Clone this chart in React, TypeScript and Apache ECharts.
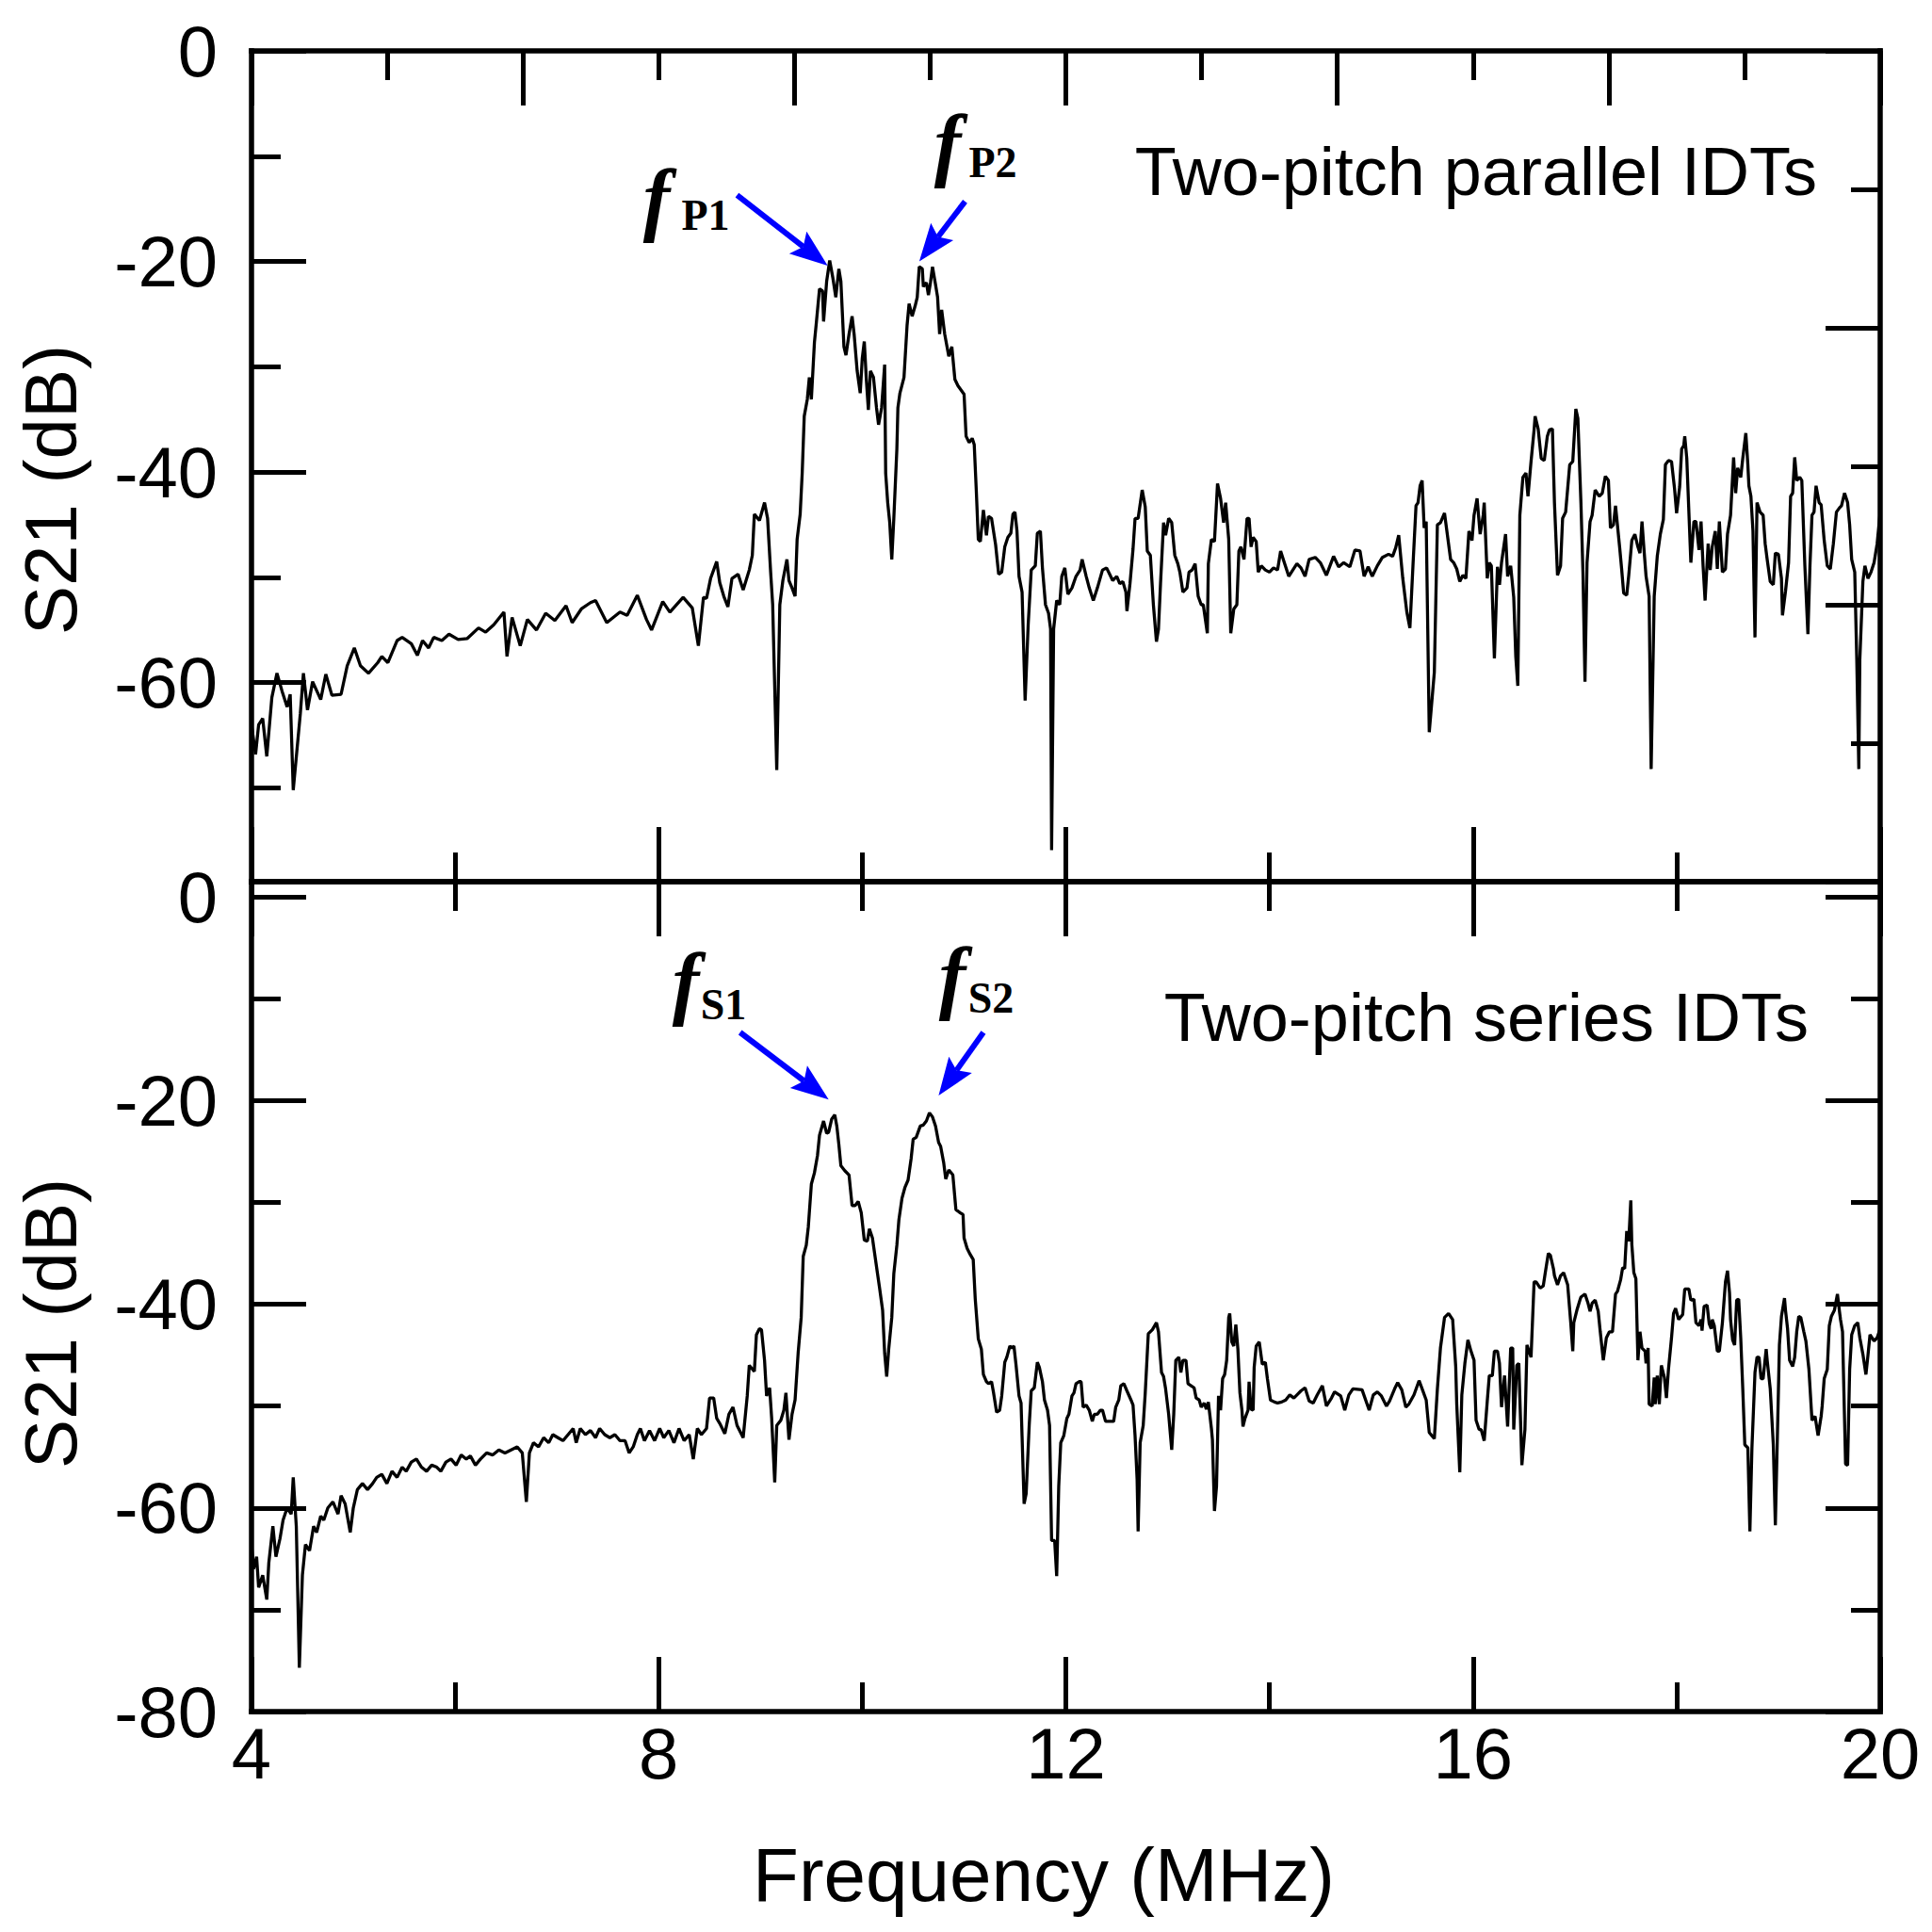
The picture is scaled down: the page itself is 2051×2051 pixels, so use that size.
import React, { useEffect, useRef } from "react";
import * as echarts from "echarts";

// ---------- data ----------
const freqMajorTicks = [4, 8, 12, 16, 20];
const dbMajorTop = [0, -20, -40, -60];
const dbMinorTop = [-10, -30, -50, -70];
const dbMajorBottom = [0, -20, -40, -60, -80];
const dbMinorBottom = [-10, -30, -50, -70];

const panelTitles = ["Two-pitch parallel IDTs", "Two-pitch series IDTs"];
const xTitle = "Frequency (MHz)";
const yTitle = "S21 (dB)";

// S21 of two-pitch parallel IDTs: [frequency MHz, dB]
const parallelS21: [number, number][] = [
  [4.00,-64.0],[4.04,-66.8],[4.07,-64.0],[4.11,-63.4],[4.15,-67.0],[4.20,-61.4],[4.25,-59.1],[4.30,-60.8],[4.35,-62.3],[4.38,-61.1],
  [4.41,-70.2],[4.48,-62.9],[4.51,-59.1],[4.55,-62.6],[4.60,-59.9],[4.68,-61.6],[4.73,-59.2],[4.79,-61.2],[4.88,-61.1],[4.94,-58.4],
  [5.01,-56.7],[5.07,-58.4],[5.15,-59.1],[5.24,-58.1],[5.28,-57.5],[5.34,-58.1],[5.43,-56.0],[5.48,-55.7],[5.57,-56.3],[5.63,-57.4],
  [5.68,-56.0],[5.74,-56.7],[5.79,-55.7],[5.87,-56.0],[5.94,-55.4],[6.03,-55.9],[6.12,-55.8],[6.23,-54.8],[6.30,-55.2],[6.38,-54.5],
  [6.48,-53.3],[6.51,-57.5],[6.56,-53.8],[6.64,-56.5],[6.71,-54.0],[6.80,-55.0],[6.89,-53.4],[6.98,-54.1],[7.09,-52.7],[7.15,-54.3],
  [7.24,-53.0],[7.33,-52.4],[7.38,-52.2],[7.49,-54.3],[7.62,-53.3],[7.69,-53.6],[7.79,-51.7],[7.88,-54.0],[7.93,-55.0],[8.04,-52.3],
  [8.11,-53.3],[8.24,-51.9],[8.33,-52.9],[8.39,-56.5],[8.44,-51.9],
  [8.47,-52.0],[8.51,-50.1],[8.57,-48.5],[8.60,-50.5],[8.64,-51.8],[8.68,-52.8],[8.72,-50.1],[8.78,-49.7],[8.83,-51.2],[8.89,-49.3],
  [8.92,-47.9],[8.94,-44.0],[8.99,-44.6],[9.04,-42.9],[9.07,-44.4],[9.10,-49.5],[9.12,-52.6],[9.16,-68.3],[9.19,-52.6],[9.22,-50.3],
  [9.26,-48.3],[9.28,-50.3],[9.31,-51.0],[9.34,-51.8],[9.36,-46.4],[9.39,-44.0],[9.41,-40.1],[9.43,-34.7],[9.46,-33.1],[9.48,-31.0],
  [9.50,-33.1],[9.53,-27.7],[9.55,-25.7],[9.58,-22.6],[9.61,-22.8],[9.62,-25.7],[9.65,-21.9],[9.68,-19.9],[9.71,-21.5],[9.74,-23.4],
  [9.77,-20.7],[9.79,-21.9],[9.82,-28.1],[9.84,-28.9],[9.87,-26.9],[9.90,-25.2],[9.92,-26.9],[9.95,-30.4],[9.98,-32.5],[10.00,-29.2],
  [10.02,-27.6],[10.04,-31.2],[10.06,-34.1],[10.08,-30.4],[10.11,-31.0],[10.14,-33.9],[10.16,-35.5],[10.19,-33.9],[10.22,-29.8],[10.23,-40.1],
  [10.25,-42.9],[10.27,-44.8],[10.29,-48.3],[10.31,-44.4],[10.34,-37.8],[10.35,-33.9],[10.37,-32.5],[10.41,-31.0],[10.44,-26.1],[10.46,-24.0],
  [10.49,-25.2],[10.52,-24.2],[10.54,-23.4],[10.56,-20.5],[10.59,-20.7],[10.60,-22.4],[10.63,-22.0],[10.65,-23.2],[10.67,-22.0],[10.69,-20.5],
  [10.72,-22.2],[10.74,-23.4],[10.76,-26.9],[10.78,-24.6],[10.81,-26.9],[10.85,-29.0],[10.88,-28.1],[10.91,-31.2],[10.94,-31.8],[10.97,-32.2],
  [11.00,-32.6],[11.02,-36.6],[11.05,-37.2],[11.08,-36.8],[11.10,-37.4],[11.12,-41.7],[11.14,-46.4],[11.16,-46.6],[11.19,-43.6],[11.22,-46.0],
  [11.24,-44.2],[11.27,-44.4],[11.31,-46.9],[11.34,-49.7],[11.37,-49.5],[11.40,-47.1],[11.43,-46.2],[11.46,-45.8],[11.48,-44.0],[11.50,-43.8],
  [11.52,-45.6],[11.54,-49.9],[11.57,-51.4],[11.60,-61.7],[11.63,-54.5],[11.66,-49.3],[11.70,-48.9],[11.72,-45.8],[11.75,-45.6],[11.77,-49.1],
  [11.80,-52.6],[11.83,-53.4],[11.85,-54.9],[11.86,-75.9],[11.88,-54.9],[11.91,-52.2],[11.94,-52.6],[11.96,-49.9],[11.99,-49.1],[12.02,-51.6],
  [12.06,-51.0],[12.10,-49.9],[12.14,-49.3],[12.16,-48.3],[12.20,-49.9],[12.23,-51.0],[12.27,-52.2],[12.31,-51.0],[12.36,-49.3],[12.40,-49.1],
  [12.43,-49.7],[12.46,-50.3],[12.50,-49.9],[12.53,-50.6],[12.56,-50.4],[12.59,-51.4],[12.60,-53.2],[12.63,-50.6],[12.66,-47.3],[12.68,-44.4],
  [12.71,-44.4],[12.75,-41.7],[12.78,-43.3],[12.80,-47.5],[12.83,-47.9],[12.86,-52.6],[12.89,-56.1],[12.91,-54.9],[12.93,-50.6],[12.96,-44.8],
  [12.98,-46.0],[13.01,-44.4],[13.04,-44.8],[13.07,-47.9],[13.10,-48.7],[13.12,-49.5],[13.15,-51.4],[13.19,-51.0],[13.21,-49.5],[13.24,-49.3],
  [13.27,-48.7],[13.30,-51.8],[13.33,-52.6],[13.35,-52.6],[13.39,-55.3],[13.40,-48.7],[13.43,-46.4],[13.46,-46.6],[13.49,-41.1],[13.52,-42.5],
  [13.55,-44.8],[13.57,-42.9],[13.60,-46.4],[13.62,-55.3],[13.65,-53.0],[13.68,-52.6],[13.70,-47.5],[13.72,-47.1],[13.75,-48.3],[13.78,-44.4],
  [13.80,-44.4],[13.82,-47.1],[13.84,-46.2],[13.87,-46.6],[13.89,-49.5],[13.92,-48.9],[13.96,-49.3],[14.00,-49.5],[14.04,-49.1],[14.08,-49.3],
  [14.11,-47.5],[14.15,-48.7],[14.19,-49.9],[14.23,-49.3],[14.27,-48.7],[14.31,-49.1],[14.35,-49.9],
  [14.39,-48.3],[14.45,-48.1],[14.50,-48.6],[14.56,-49.8],[14.63,-48.0],[14.68,-49.0],[14.73,-48.6],[14.79,-49.0],[14.84,-47.4],[14.89,-47.5],
  [14.93,-49.9],[14.97,-49.0],[15.01,-49.9],[15.06,-48.9],[15.11,-48.1],[15.17,-47.8],[15.21,-48.0],[15.24,-47.2],[15.27,-46.0],[15.31,-50.1],
  [15.35,-53.3],[15.38,-54.8],[15.41,-48.9],[15.44,-43.2],[15.46,-42.9],[15.48,-41.3],[15.50,-40.8],[15.52,-45.3],[15.54,-44.7],[15.57,-64.7],
  [15.62,-59.0],[15.65,-45.0],[15.68,-44.8],[15.72,-43.9],[15.78,-48.3],[15.81,-48.6],[15.84,-49.2],[15.87,-50.4],[15.90,-49.8],[15.93,-50.1],
  [15.96,-45.6],[15.99,-46.5],[16.01,-44.1],[16.04,-42.5],[16.07,-45.9],[16.10,-44.1],[16.11,-42.9],[16.14,-50.1],[16.16,-48.6],[16.18,-48.9],
  [16.21,-57.7],[16.24,-49.0],[16.26,-50.7],[16.28,-48.6],[16.32,-45.9],[16.34,-49.9],[16.37,-48.9],[16.40,-51.9],[16.42,-57.5],[16.44,-60.3],
  [16.46,-44.1],[16.49,-40.5],[16.52,-40.1],[16.54,-42.3],[16.57,-39.0],[16.60,-36.0],[16.61,-34.7],[16.64,-35.9],[16.67,-38.7],[16.70,-38.9],
  [16.73,-36.6],[16.75,-36.0],[16.78,-35.9],[16.80,-42.9],[16.83,-49.8],[16.86,-48.9],[16.88,-44.4],[16.91,-43.8],[16.95,-39.3],[16.98,-39.0],
  [17.01,-34.0],[17.03,-34.9],[17.06,-42.9],[17.08,-49.5],[17.10,-59.9],[17.12,-48.6],[17.15,-44.7],[17.17,-44.1],[17.20,-41.7],[17.24,-42.3],
  [17.27,-42.0],[17.30,-40.4],[17.33,-40.8],[17.35,-45.3],[17.38,-45.0],[17.40,-43.2],[17.44,-47.1],[17.46,-49.2],[17.48,-51.5],[17.51,-51.7],
  [17.53,-49.8],[17.56,-46.5],[17.59,-45.9],[17.62,-47.1],[17.64,-47.7],[17.66,-44.7],[17.68,-47.4],[17.70,-49.9],[17.73,-51.8],[17.75,-68.2],
  [17.78,-51.8],[17.81,-48.0],[17.84,-45.9],[17.87,-44.5],[17.89,-39.3],[17.92,-38.9],[17.95,-39.0],[17.98,-41.6],[18.00,-43.9],[18.03,-41.4],
  [18.05,-37.8],[18.07,-37.5],[18.08,-36.6],[18.10,-38.7],[18.14,-48.6],[18.17,-44.7],[18.19,-44.7],[18.22,-47.4],[18.24,-44.7],[18.26,-48.9],
  [18.28,-52.2],[18.31,-46.8],[18.33,-49.3],[18.35,-47.1],[18.38,-45.6],[18.40,-49.2],[18.42,-44.7],[18.45,-49.5],[18.48,-49.2],[18.50,-45.9],
  [18.53,-44.1],[18.56,-38.6],[18.58,-42.0],[18.60,-39.6],[18.63,-40.5],[18.65,-38.7],[18.68,-36.3],[18.70,-39.3],[18.71,-41.3],[18.73,-42.3],
  [18.75,-45.6],[18.77,-55.7],[18.79,-42.9],[18.82,-43.8],[18.85,-44.1],[18.87,-46.8],[18.89,-48.3],[18.92,-50.4],[18.95,-50.7],[18.97,-47.7],
  [19.00,-47.8],[19.03,-50.1],[19.04,-53.6],[19.07,-51.3],[19.10,-48.6],[19.12,-42.3],[19.14,-42.0],[19.16,-38.6],[19.18,-40.8],[19.21,-40.5],
  [19.23,-40.8],[19.26,-48.9],[19.29,-55.4],[19.31,-48.9],[19.33,-44.1],[19.35,-43.8],[19.37,-41.3],[19.40,-42.9],[19.42,-43.1],[19.45,-46.5],
  [19.48,-48.9],[19.51,-49.2],[19.54,-46.8],[19.57,-43.8],[19.60,-43.4],[19.62,-43.2],[19.65,-42.0],[19.68,-42.9],[19.70,-45.0],[19.72,-48.3],
  [19.75,-49.5],[19.77,-57.8],[19.79,-68.2],[19.80,-57.8],[19.83,-50.4],[19.85,-48.9],[19.88,-50.1],[19.91,-49.5],[19.94,-48.6],[19.97,-46.8],
  [20.00,-43.8],
];

// S21 of two-pitch series IDTs: [frequency MHz, dB]
const seriesS21: [number, number][] = [
  [4.00,-63.6],[4.02,-66.0],[4.05,-64.8],[4.07,-67.8],[4.11,-66.6],[4.15,-69.0],[4.17,-65.4],[4.21,-61.8],[4.24,-64.8],[4.28,-63.0],
  [4.31,-61.2],[4.35,-60.0],[4.39,-60.6],[4.41,-57.0],[4.44,-61.8],[4.47,-75.7],[4.50,-66.6],[4.53,-63.6],[4.57,-64.2],[4.61,-61.8],
  [4.64,-62.4],[4.68,-60.8],[4.71,-61.2],[4.75,-60.0],[4.80,-59.4],[4.85,-60.6],[4.88,-58.8],[4.92,-59.6],[4.97,-62.4],[5.00,-60.0],
  [5.04,-58.2],[5.09,-57.6],[5.14,-58.2],[5.19,-57.6],[5.23,-57.0],[5.28,-56.7],[5.33,-57.6],[5.38,-56.4],[5.43,-57.0],[5.48,-56.0],
  [5.52,-56.4],[5.57,-55.5],[5.62,-55.2],[5.67,-56.0],[5.72,-56.4],[5.77,-55.8],[5.82,-56.0],[5.86,-56.4],[5.91,-55.5],[5.96,-55.2],
  [6.01,-55.8],[6.06,-54.8],[6.11,-55.2],[6.15,-54.9],[6.20,-55.8],[6.25,-55.2],[6.31,-54.6],[6.37,-54.8],[6.43,-54.3],[6.49,-54.6],
  [6.55,-54.3],[6.61,-54.0],[6.66,-54.6],[6.70,-59.4],[6.73,-54.6],[6.77,-53.6],[6.82,-54.0],[6.87,-53.1],[6.92,-53.6],[6.96,-52.8],
  [7.01,-53.1],[7.06,-53.4],[7.11,-52.8],[7.16,-52.2],[7.19,-53.6],[7.23,-52.2],[7.28,-52.8],[7.33,-52.4],[7.38,-53.1],[7.42,-52.2],
  [7.47,-52.8],[7.52,-53.1],[7.57,-52.8],[7.62,-53.4],[7.67,-53.4],[7.71,-54.6],[7.75,-54.0],[7.79,-52.8],[7.82,-52.2],[7.86,-53.4],
  [7.91,-52.4],[7.96,-53.4],[8.01,-52.2],[8.05,-53.1],[8.10,-52.4],[8.15,-53.6],[8.20,-52.2],[8.25,-53.4],[8.30,-52.8],[8.34,-55.2],
  [8.38,-52.2],[8.42,-52.8],
  [8.47,-52.2],[8.50,-49.2],[8.54,-49.2],[8.57,-51.2],[8.60,-51.7],[8.65,-52.7],[8.69,-50.8],[8.73,-50.1],[8.77,-51.9],[8.83,-53.1],
  [8.87,-49.0],[8.89,-46.0],[8.94,-46.6],[8.96,-43.0],[8.99,-42.4],[9.01,-42.5],[9.04,-45.5],[9.06,-49.0],[9.09,-48.2],[9.11,-51.2],
  [9.14,-57.5],[9.16,-51.9],[9.20,-51.4],[9.23,-50.4],[9.25,-48.7],[9.28,-53.3],[9.31,-50.8],[9.34,-49.4],[9.37,-44.8],[9.40,-41.3],
  [9.42,-35.3],[9.45,-34.2],[9.47,-32.4],[9.50,-28.2],[9.53,-27.1],[9.56,-25.4],[9.58,-23.4],[9.62,-22.0],[9.65,-23.2],[9.67,-23.1],
  [9.70,-21.8],[9.73,-21.4],[9.75,-22.5],[9.77,-24.3],[9.79,-26.4],[9.83,-26.9],[9.87,-27.3],[9.90,-30.3],[9.93,-30.3],[9.96,-29.9],
  [9.99,-31.0],[10.02,-33.7],[10.05,-33.8],[10.07,-32.6],[10.10,-33.5],[10.12,-34.9],[10.15,-37.0],[10.17,-38.4],[10.20,-40.6],[10.22,-44.8],
  [10.24,-47.1],[10.26,-44.4],[10.29,-41.3],[10.31,-37.0],[10.34,-34.2],[10.36,-31.7],[10.39,-29.6],[10.42,-28.5],[10.45,-27.8],[10.48,-25.7],
  [10.50,-23.8],[10.53,-23.6],[10.57,-22.5],[10.60,-22.4],[10.63,-22.0],[10.66,-21.2],[10.69,-21.6],[10.72,-22.5],[10.75,-24.1],[10.77,-24.5],
  [10.80,-26.1],[10.82,-27.7],[10.85,-26.8],[10.89,-27.3],[10.92,-30.7],[10.96,-31.0],[10.99,-31.2],[11.00,-33.5],[11.03,-34.5],[11.06,-35.1],
  [11.09,-35.6],[11.11,-39.5],[11.14,-43.4],[11.17,-44.4],[11.19,-46.9],[11.22,-47.6],[11.24,-47.8],[11.27,-47.6],[11.29,-48.7],[11.32,-50.6],
  [11.35,-50.4],[11.37,-49.0],[11.40,-45.7],[11.42,-45.2],[11.45,-44.1],[11.47,-44.3],[11.49,-44.1],[11.51,-45.9],[11.54,-49.0],[11.56,-49.7],
  [11.59,-59.6],[11.61,-58.6],[11.64,-51.9],[11.66,-48.5],[11.69,-48.2],[11.72,-45.7],[11.74,-46.2],[11.77,-47.6],[11.79,-49.4],[11.82,-50.4],
  [11.84,-51.9],[11.86,-63.2],[11.89,-63.2],[11.91,-66.7],[11.93,-57.9],[11.95,-53.6],[11.98,-52.9],[12.01,-51.2],[12.03,-50.8],[12.06,-49.0],
  [12.08,-48.7],[12.10,-47.8],[12.13,-47.6],[12.15,-47.6],[12.17,-50.1],[12.20,-49.9],[12.23,-50.4],[12.26,-51.5],[12.28,-50.8],[12.31,-50.8],
  [12.34,-50.4],[12.36,-50.4],[12.39,-51.5],[12.43,-51.5],[12.47,-51.5],[12.49,-50.1],[12.52,-49.4],[12.54,-48.0],[12.57,-47.8],[12.60,-48.5],
  [12.64,-49.4],[12.66,-49.9],[12.68,-52.9],[12.70,-57.2],[12.71,-62.3],[12.73,-53.6],[12.76,-51.9],[12.78,-48.7],[12.81,-42.9],[12.85,-42.5],
  [12.89,-41.8],[12.91,-42.7],[12.94,-46.7],[12.96,-47.1],[12.98,-48.3],[13.01,-50.8],[13.04,-54.3],[13.06,-50.8],[13.08,-45.5],[13.11,-45.2],
  [13.13,-46.7],[13.15,-45.5],[13.18,-45.5],[13.20,-47.8],[13.23,-48.0],[13.26,-48.2],[13.28,-49.2],[13.31,-49.4],[13.33,-50.1],[13.36,-49.7],
  [13.38,-50.3],[13.40,-49.6],[13.43,-52.2],[13.44,-53.3],[13.46,-60.3],[13.48,-57.9],[13.50,-49.0],[13.52,-50.4],[13.54,-47.3],[13.56,-46.9],
  [13.58,-45.5],[13.60,-41.3],[13.61,-40.9],[13.63,-43.7],[13.65,-44.1],[13.67,-42.0],[13.69,-44.4],[13.71,-48.7],[13.73,-50.4],[13.74,-52.0],
  [13.76,-51.2],[13.79,-50.4],[13.80,-47.6],[13.82,-50.3],[13.84,-50.4],[13.85,-46.2],[13.87,-44.1],[13.90,-43.7],[13.93,-45.9],[13.96,-45.7],
  [13.98,-47.3],[14.01,-49.4],[14.05,-49.6],[14.08,-49.7],[14.12,-49.6],[14.16,-49.4],[14.20,-48.9],[14.24,-49.2],[14.27,-48.9],[14.31,-48.5],
  [14.35,-48.2],
  [14.39,-49.5],[14.43,-49.7],[14.47,-48.9],[14.52,-48.0],[14.56,-50.0],[14.61,-49.2],[14.64,-48.6],[14.70,-49.0],[14.74,-50.4],[14.78,-48.9],
  [14.82,-48.3],[14.91,-48.4],[14.98,-50.4],[15.02,-48.9],[15.06,-48.6],[15.10,-49.0],[15.15,-50.0],[15.18,-49.5],[15.23,-48.3],[15.26,-47.7],
  [15.30,-48.4],[15.34,-50.1],[15.37,-49.8],[15.42,-48.9],[15.47,-47.5],[15.50,-48.3],[15.54,-49.4],[15.57,-52.6],[15.62,-53.2],[15.65,-48.3],
  [15.68,-44.3],[15.72,-41.3],[15.76,-40.9],[15.80,-41.5],[15.83,-46.1],[15.84,-49.8],[15.87,-56.5],[15.89,-48.9],[15.92,-45.8],[15.95,-43.5],
  [15.98,-44.6],[16.01,-45.5],[16.03,-51.4],[16.06,-52.3],[16.08,-52.3],[16.11,-53.4],[16.14,-49.5],[16.16,-47.0],[16.19,-47.0],[16.21,-44.6],
  [16.24,-44.6],[16.26,-45.8],[16.28,-50.1],[16.31,-47.0],[16.34,-52.0],[16.37,-44.3],[16.39,-44.3],[16.40,-52.3],[16.43,-46.0],[16.45,-45.8],
  [16.48,-55.8],[16.51,-52.3],[16.53,-44.0],[16.57,-45.2],[16.60,-37.8],[16.62,-37.8],[16.66,-38.4],[16.69,-38.2],[16.71,-36.9],[16.74,-35.0],
  [16.76,-35.2],[16.79,-36.5],[16.80,-37.2],[16.83,-38.1],[16.86,-37.2],[16.89,-36.9],[16.93,-38.1],[16.96,-41.8],[16.98,-44.6],[16.99,-41.8],
  [17.02,-40.6],[17.05,-39.6],[17.06,-39.3],[17.10,-39.0],[17.13,-39.9],[17.15,-40.7],[17.17,-39.9],[17.20,-39.6],[17.23,-40.7],[17.25,-42.7],
  [17.28,-45.5],[17.31,-43.3],[17.34,-42.7],[17.37,-42.7],[17.40,-39.0],[17.42,-38.7],[17.45,-37.6],[17.47,-36.4],[17.49,-36.5],[17.51,-32.8],
  [17.53,-33.8],[17.55,-29.8],[17.56,-34.1],[17.58,-36.9],[17.60,-37.5],[17.62,-45.5],[17.64,-42.7],[17.66,-44.3],[17.69,-44.6],[17.70,-45.8],
  [17.72,-44.3],[17.73,-49.8],[17.76,-50.0],[17.78,-47.2],[17.79,-49.8],[17.81,-47.0],[17.83,-49.8],[17.85,-46.0],[17.88,-47.2],[17.90,-49.2],
  [17.92,-46.4],[17.95,-43.3],[17.97,-40.9],[17.99,-40.4],[18.02,-41.5],[18.06,-41.0],[18.08,-38.5],[18.12,-38.5],[18.14,-39.6],[18.17,-39.5],
  [18.19,-41.8],[18.22,-42.1],[18.24,-41.5],[18.25,-42.6],[18.27,-40.2],[18.30,-40.1],[18.32,-41.9],[18.34,-42.4],[18.35,-41.5],[18.37,-42.1],
  [18.40,-44.6],[18.42,-44.6],[18.45,-41.8],[18.48,-37.8],[18.50,-36.7],[18.52,-38.9],[18.53,-41.5],[18.55,-43.5],[18.57,-44.0],[18.59,-39.6],
  [18.61,-39.5],[18.63,-43.3],[18.65,-48.3],[18.67,-53.8],[18.70,-54.1],[18.72,-62.3],[18.74,-54.1],[18.77,-46.7],[18.79,-45.2],[18.81,-45.2],
  [18.83,-47.3],[18.85,-47.3],[18.88,-44.4],[18.89,-45.5],[18.92,-48.3],[18.95,-53.8],[18.97,-61.7],[19.00,-48.6],[19.01,-44.0],[19.03,-41.2],
  [19.06,-39.4],[19.07,-40.6],[19.09,-42.4],[19.11,-45.5],[19.14,-46.1],[19.16,-45.2],[19.18,-42.7],[19.20,-41.2],[19.22,-41.3],[19.25,-42.7],
  [19.27,-43.6],[19.30,-46.4],[19.33,-51.4],[19.36,-51.0],[19.39,-52.9],[19.42,-51.0],[19.43,-50.0],[19.45,-47.3],[19.48,-46.4],[19.50,-42.1],
  [19.52,-41.2],[19.55,-40.6],[19.58,-39.0],[19.60,-40.7],[19.61,-41.5],[19.63,-42.7],[19.66,-55.7],[19.68,-55.8],[19.70,-46.4],[19.72,-43.0],
  [19.75,-42.1],[19.78,-41.8],[19.80,-43.3],[19.83,-44.9],[19.86,-46.9],[19.88,-45.0],[19.90,-43.0],[19.94,-43.6],[19.97,-43.3],[20.00,-42.4],
];

// Peak annotations: arrow from [f, dB] to [f, dB] in each panel
const peakArrows = [
  { panel: 0, from: [8.77, -13.7], to: [9.66, -20.4] },
  { panel: 0, from: [11.01, -14.3], to: [10.56, -20.0] },
  { panel: 1, from: [8.80, -13.3], to: [9.67, -19.9] },
  { panel: 1, from: [11.19, -13.3], to: [10.75, -19.5] },
];
const peakSubscripts = ["P1", "P2", "S1", "S2"];

// ---------- component ----------
const SANS = "'Liberation Sans', Arial, sans-serif";
const SERIF = "'Liberation Serif', 'Times New Roman', serif";

export default function App() {
  const ref = useRef<HTMLDivElement>(null);

  useEffect(() => {
    if (!ref.current) return;
    const chart = echarts.init(ref.current, undefined, { renderer: "svg" });

    const axisLine = { show: true, onZero: false, lineStyle: { color: "#000", width: 5.5, cap: "square" } };
    const tickLS = { color: "#000", width: 5 };
    const MAJ = 58;
    const MIN = 31;
    const labelStyle = { color: "#000", fontSize: 76, fontFamily: SANS };
    const noSplit = { splitLine: { show: false }, minorSplitLine: { show: false } };

    const freqAxis = (gridIndex: number, position: string, showLabel: boolean) => ({
      type: "value",
      gridIndex,
      position,
      min: freqMajorTicks[0],
      max: freqMajorTicks[freqMajorTicks.length - 1],
      interval: freqMajorTicks[1] - freqMajorTicks[0],
      axisLine,
      axisTick: { show: true, inside: true, length: MAJ, lineStyle: tickLS },
      minorTick: { show: true, splitNumber: 2, length: MIN, lineStyle: tickLS },
      axisLabel: showLabel ? { show: true, margin: 6, ...labelStyle } : { show: false },
      ...noSplit,
    });

    const dbAxis = (
      gridIndex: number,
      position: string,
      min: number,
      max: number,
      ticks: number[],
      len: number,
      showLabel: boolean,
      showLine: boolean
    ) => ({
      type: "value",
      gridIndex,
      position,
      min,
      max,
      axisLine: showLine ? axisLine : { show: false, onZero: false },
      axisTick: { show: true, inside: true, length: len, lineStyle: tickLS, customValues: ticks },
      axisLabel: showLabel
        ? { show: true, margin: 36, customValues: ticks, ...labelStyle }
        : { show: false },
      ...noSplit,
    });

    const lineSeries = (name: string, data: [number, number][], xi: number, yi: number) => ({
      name,
      type: "line",
      xAxisIndex: xi,
      yAxisIndex: yi,
      data,
      symbol: "none",
      showSymbol: false,
      silent: true,
      lineStyle: { color: "#000", width: 3.3 },
      z: 3,
    });

    chart.setOption({
      animation: false,
      backgroundColor: "#fff",
      grid: [
        { left: 267, top: 54, width: 1729, height: 882 },
        { left: 267, top: 936, width: 1729, height: 881 },
      ],
      xAxis: [
        freqAxis(0, "bottom", false),
        {
          type: "value",
          gridIndex: 0,
          position: "top",
          min: 0,
          max: 12,
          interval: 2,
          axisLine,
          axisTick: { show: true, inside: true, length: MAJ, lineStyle: tickLS },
          minorTick: { show: true, splitNumber: 2, length: MIN, lineStyle: tickLS },
          axisLabel: { show: false },
          ...noSplit,
        },
        freqAxis(1, "bottom", true),
        freqAxis(1, "top", false),
      ],
      yAxis: [
        dbAxis(0, "left", -78.9, 0, dbMajorTop, MAJ, true, true),
        dbAxis(0, "left", -78.9, 0, dbMinorTop, MIN, false, false),
        {
          type: "value",
          gridIndex: 0,
          position: "right",
          min: 0,
          max: 6,
          interval: 2,
          axisLine,
          axisTick: { show: true, inside: true, length: MAJ, lineStyle: tickLS },
          minorTick: { show: true, splitNumber: 2, length: MIN, lineStyle: tickLS },
          axisLabel: { show: false },
          ...noSplit,
        },
        dbAxis(1, "left", -80, 1.5, dbMajorBottom, MAJ, true, true),
        dbAxis(1, "left", -80, 1.5, dbMinorBottom, MIN, false, false),
        dbAxis(1, "right", -80, 1.5, dbMajorBottom, MAJ, false, true),
        dbAxis(1, "right", -80, 1.5, dbMinorBottom, MIN, false, false),
      ],
      series: [
        lineSeries("parallel", parallelS21, 0, 0),
        lineSeries("series", seriesS21, 2, 3),
      ],
    });

    // annotations (arrows positioned from data coordinates)
    const blue = "#0000ff";
    const graphics: any[] = [];
    peakArrows.forEach((a) => {
      const p0 = chart.convertToPixel({ seriesIndex: a.panel }, a.from) as number[];
      const p1 = chart.convertToPixel({ seriesIndex: a.panel }, a.to) as number[];
      const dx = p1[0] - p0[0];
      const dy = p1[1] - p0[1];
      const L = Math.hypot(dx, dy);
      const ux = dx / L;
      const uy = dy / L;
      const head = 40;
      const half = 15;
      const bx = p1[0] - ux * head;
      const by = p1[1] - uy * head;
      const nx = p1[0] - ux * head * 0.82;
      const ny = p1[1] - uy * head * 0.82;
      graphics.push({
        type: "line",
        shape: { x1: p0[0], y1: p0[1], x2: nx, y2: ny },
        style: { stroke: blue, lineWidth: 6 },
        z: 10,
      });
      graphics.push({
        type: "polygon",
        shape: {
          points: [
            [p1[0], p1[1]],
            [bx - uy * half, by + ux * half],
            [nx, ny],
            [bx + uy * half, by - ux * half],
          ],
        },
        style: { fill: blue },
        z: 10,
      });
    });

    const fLabelPos = [
      { fx: 697, fy: 210, sx: 749, sy: 228 },
      { fx: 1006, fy: 152, sx: 1054, sy: 172 },
      { fx: 728, fy: 1042, sx: 768, sy: 1066 },
      { fx: 1011, fy: 1036, sx: 1052, sy: 1059 },
    ];
    fLabelPos.forEach((p, i) => {
      graphics.push({
        type: "text",
        x: p.fx,
        y: p.fy,
        z: 10,
        style: {
          text: "f",
          fill: "#000",
          fontSize: 86,
          fontFamily: SERIF,
          fontWeight: "bold",
          fontStyle: "italic",
          align: "center",
          verticalAlign: "middle",
          textAlign: "center",
          textVerticalAlign: "middle",
        },
      });
      graphics.push({
        type: "text",
        x: p.sx,
        y: p.sy,
        z: 10,
        style: {
          text: peakSubscripts[i],
          fill: "#000",
          fontSize: 46,
          fontFamily: SERIF,
          fontWeight: "bold",
          align: "center",
          verticalAlign: "middle",
          textAlign: "center",
          textVerticalAlign: "middle",
        },
      });
    });

    const txt = (text: string, x: number, y: number, size: number, align: string, rotation = 0) => ({
      type: "text",
      x,
      y,
      rotation,
      z: 10,
      style: {
        text,
        fill: "#000",
        fontSize: size,
        fontFamily: SANS,
        align,
        verticalAlign: "middle",
        textAlign: align,
        textVerticalAlign: "middle",
      },
    });
    graphics.push(txt(panelTitles[0], 1929, 182, 72, "right"));
    graphics.push(txt(panelTitles[1], 1920, 1080, 72, "right"));
    graphics.push(txt(xTitle, 1108, 1990, 80, "center"));
    graphics.push(txt(yTitle, 54, 520, 78, "center", Math.PI / 2));
    graphics.push(txt(yTitle, 54, 1405, 78, "center", Math.PI / 2));

    chart.setOption({ graphic: graphics });

    return () => chart.dispose();
  }, []);

  return (
    <div
      ref={ref}
      style={{ position: "fixed", left: 0, top: 0, width: "2051px", height: "2051px", background: "#fff" }}
    />
  );
}
